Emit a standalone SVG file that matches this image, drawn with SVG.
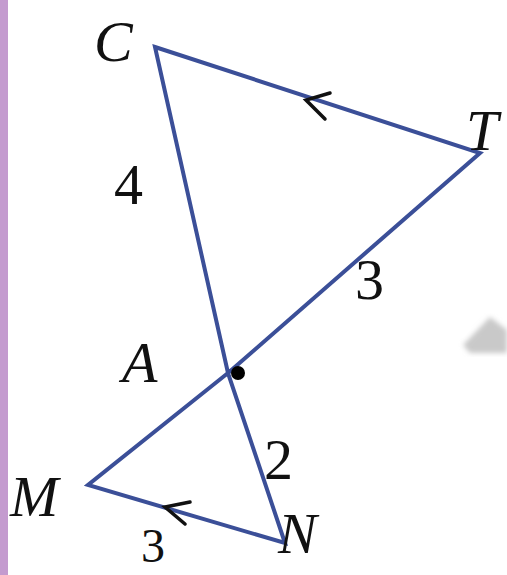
<svg xmlns="http://www.w3.org/2000/svg" width="507" height="575" viewBox="0 0 507 575">
<style>
.edge{fill:none;stroke:#3b4f98;stroke-width:4;stroke-linejoin:miter}
.tick{fill:none;stroke:#111;stroke-width:3.5;stroke-linecap:round;stroke-linejoin:miter}
.lbl{font-family:"Liberation Serif",serif;font-style:italic;font-size:58px;fill:#111}
.num{font-family:"Liberation Serif",serif;font-size:58px;fill:#111}
</style>
<defs><filter id="blur"><feGaussianBlur stdDeviation="2.5"/></filter></defs>
<rect x="0" y="0" width="507" height="575" fill="#ffffff"/>
<rect x="0" y="0" width="8" height="575" fill="#c49bcf"/>
<polygon points="463,345 490,317 507,330 507,353 470,353" fill="#c9c9c9" filter="url(#blur)"/>
<g id="connectors">
<polygon class="edge" points="155,47 480,153 228,373"/>
<polygon class="edge" points="228,373 88,485 285,543"/>
<polyline class="tick" points="330,93 306,100 325,119"/>
<polyline class="tick" points="190,502 165,507 185,524"/>
</g>
<g id="A"><circle cx="238" cy="373" r="7" fill="#000"/><text class="lbl" x="122" y="382">A</text></g>
<g id="C"><text class="lbl" x="94" y="61">C</text></g>
<g id="T"><text class="lbl" x="466" y="150">T</text></g>
<g id="M"><text class="lbl" x="10" y="516">M</text></g>
<g id="N"><text class="lbl" x="278" y="553">N</text></g>
<g id="labels">
<text class="num" x="114" y="204">4</text>
<text class="num" x="355" y="299">3</text>
<text class="num" x="264" y="479">2</text>
<text class="num" x="141" y="562" style="font-size:48px">3</text>
</g>
</svg>
